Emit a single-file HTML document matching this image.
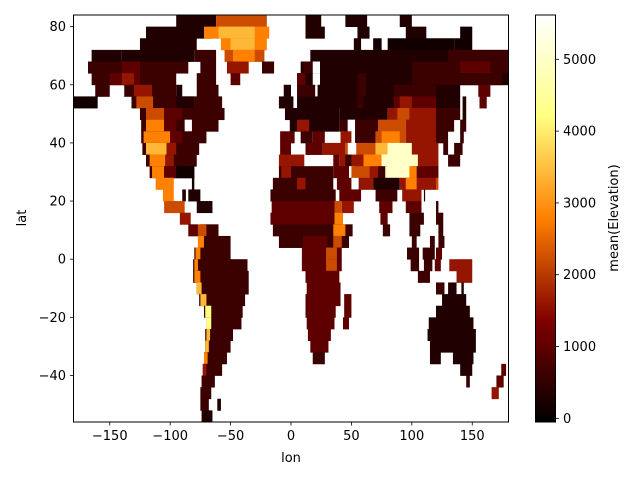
<!DOCTYPE html>
<html><head><meta charset="utf-8"><style>
body{margin:0;background:#fff}
svg{display:block;font-family:"DejaVu Sans","Liberation Sans",sans-serif}
</style></head><body>
<svg id="chart" width="640" height="480" viewBox="0 0 640 480" xmlns="http://www.w3.org/2000/svg">
<defs><linearGradient id="cbgrad" x1="0" y1="1" x2="0" y2="0">
<stop offset="0" stop-color="rgb(0,0,0)"/><stop offset="0.25" stop-color="rgb(128,0,0)"/><stop offset="0.5" stop-color="rgb(255,128,0)"/><stop offset="0.75" stop-color="rgb(255,255,128)"/><stop offset="1" stop-color="rgb(255,255,255)"/></linearGradient>
<clipPath id="plotclip"><rect x="73.5" y="15" width="435" height="407"/></clipPath></defs>
<g id="cells" clip-path="url(#plotclip)"></g>
<rect x="73.5" y="15" width="435" height="407" fill="none" stroke="#000" stroke-width="1"/>
<g id="axes"></g>
<rect x="535.5" y="15" width="20" height="407" fill="url(#cbgrad)" stroke="#000" stroke-width="1"/>
<text x="291" y="462" font-size="13" text-anchor="middle">lon</text>
<text transform="translate(26,218) rotate(-90)" font-size="13" text-anchor="middle">lat</text>
<text transform="translate(618,218) rotate(-90)" font-size="13" text-anchor="middle">mean(Elevation)</text>
</svg>
<script>
const latTop = 84, latStep = 4;
const codeValues = {a:150,b:300,c:600,d:1000,e:1600,f:2200,g:2800,h:3400,i:4200,j:5000};
const xTicks = [-150,-100,-50,0,50,100,150];
const yTicks = [-40,-20,0,20,40,60,80];
const cbTicks = [0,1000,2000,3000,4000,5000];
const rows = [
[[-95,-62,'b'],[-62,-20,'f'],[12,25,'b'],[45,63,'b'],[90,100,'b']],
[[-120,-65,'b'],[-72,-18,'g'],[-60,-30,'h'],[12,28,'b'],[55,65,'b'],[95,112,'b'],[140,150,'a']],
[[-125,-78,'b'],[-58,-20,'g'],[-50,-30,'h'],[52,58,'b'],[68,75,'a'],[80,135,'a'],[135,150,'a']],
[[-165,-140,'b'],[-140,-80,'b'],[-80,-62,'c'],[-55,-22,'f'],[-48,-30,'g'],[16,180,'b'],[130,180,'c']],
[[-168,-85,'c'],[-140,-125,'d'],[-75,-62,'c'],[-53,-35,'e'],[-24,-14,'c'],[8,180,'b'],[10,20,'c'],[18,24,'.'],[100,180,'c'],[140,165,'d']],
[[-165,-95,'c'],[-150,-125,'d'],[-140,-130,'e'],[-78,-62,'c'],[-50,-42,'d'],[5,180,'b'],[5,12,'d'],[18,24,'.'],[55,62,'c'],[100,140,'c'],[140,175,'c']],
[[-162,-150,'c'],[-138,-95,'c'],[-130,-115,'e'],[-95,-90,'b'],[-78,-60,'c'],[-6,0,'b'],[5,20,'c'],[22,140,'b'],[55,62,'c'],[85,120,'c'],[155,165,'d']],
[[-180,-160,'a'],[-132,-80,'c'],[-128,-114,'f'],[-114,-95,'c'],[-95,-80,'b'],[-80,-57,'c'],[-10,2,'b'],[5,140,'b'],[55,60,'c'],[85,120,'d'],[90,100,'e'],[142,145,'b'],[156,162,'d']],
[[-125,-55,'c'],[-120,-105,'f'],[-105,-90,'d'],[-5,40,'b'],[40,80,'b'],[80,120,'e'],[88,98,'f'],[120,140,'c'],[142,145,'b']],
[[-124,-60,'c'],[-120,-105,'g'],[-105,-95,'d'],[-88,-82,'.'],[-1,40,'b'],[5,15,'e'],[40,47,'c'],[47,53,'.'],[53,80,'c'],[72,95,'f'],[95,120,'e'],[120,135,'c'],[140,145,'c']],
[[-124,-70,'c'],[-122,-100,'g'],[-100,-90,'d'],[-9,3,'d'],[8,18,'c'],[18,28,'d'],[41,50,'e'],[53,70,'c'],[70,95,'f'],[75,90,'g'],[95,120,'e'],[120,130,'c'],[140,143,'c']],
[[-123,-76,'c'],[-120,-103,'h'],[-103,-95,'e'],[-9,0,'d'],[12,26,'d'],[26,45,'e'],[45,70,'f'],[47,54,'.'],[70,80,'h'],[80,100,'j'],[100,122,'e'],[126,130,'c'],[135,142,'c']],
[[-120,-78,'c'],[-117,-104,'g'],[-104,-97,'e'],[-10,11,'e'],[35,40,'d'],[40,60,'e'],[45,50,'c'],[60,75,'g'],[75,105,'j'],[105,122,'e'],[130,140,'c']],
[[-117,-80,'c'],[-115,-105,'g'],[-105,-95,'d'],[-95,-80,'a'],[-10,35,'c'],[-8,0,'e'],[35,50,'d'],[48,52,'.'],[50,65,'f'],[65,72,'e'],[72,80,'c'],[78,100,'j'],[100,122,'d'],[98,104,'g']],
[[-112,-97,'g'],[-82,-80,'a'],[-15,35,'c'],[5,12,'e'],[38,57,'d'],[50,56,'.'],[57,68,'e'],[68,90,'b'],[90,120,'e'],[95,104,'g'],[120,122,'f']],
[[-106,-97,'g'],[-90,-87,'b'],[-85,-75,'b'],[-17,37,'c'],[40,58,'d'],[70,88,'c'],[92,108,'e'],[110,111,'b']],
[[-105,-88,'f'],[-78,-65,'b'],[-16,40,'d'],[36,42,'f'],[42,52,'e'],[73,84,'d'],[95,108,'d'],[120,122,'c']],
[[-92,-83,'e'],[-17,43,'d'],[36,43,'g'],[74,80,'d'],[98,110,'c'],[120,126,'c']],
[[-85,-77,'d'],[-75,-60,'c'],[-77,-70,'f'],[-15,51,'c'],[35,45,'g'],[76,82,'c'],[98,107,'c'],[122,126,'c']],
[[-77,-50,'c'],[-77,-72,'g'],[-10,48,'c'],[10,30,'d'],[35,42,'f'],[100,104,'c'],[115,119,'c'],[122,127,'c']],
[[-80,-50,'c'],[-79,-75,'g'],[9,42,'d'],[29,38,'f'],[96,106,'c'],[109,119,'c'],[120,125,'d']],
[[-81,-36,'c'],[-80,-77,'g'],[9,42,'d'],[29,38,'f'],[99,106,'c'],[110,117,'c'],[119,124,'d'],[131,150,'e']],
[[-81,-35,'c'],[-80,-75,'g'],[12,40,'d'],[105,115,'c'],[137,150,'e']],
[[-78,-35,'c'],[-78,-74,'h'],[13,41,'d'],[120,127,'c'],[130,137,'b'],[141,143,'b']],
[[-76,-38,'c'],[-75,-70,'h'],[12,41,'d'],[44,50,'d'],[125,145,'b']],
[[-72,-40,'c'],[-71,-66,'i'],[12,37,'d'],[44,50,'d'],[120,148,'b']],
[[-70,-41,'c'],[-70,-66,'i'],[13,36,'d'],[43,48,'d'],[114,151,'b']],
[[-71,-48,'c'],[-70,-67,'h'],[14,33,'d'],[113,153,'b']],
[[-71,-50,'c'],[-71,-68,'h'],[16,31,'d'],[115,153,'b']],
[[-72,-53,'c'],[-72,-69,'g'],[18,28,'c'],[115,124,'b'],[134,151,'b']],
[[-73,-57,'c'],[-73,-70,'e'],[140,150,'b'],[174,178,'d']],
[[-74,-63,'c'],[145,148,'c'],[170,176,'d']],
[[-75,-66,'c'],[166,172,'e']],
[[-75,-68,'c'],[-61,-58,'b']],
[[-74,-65,'b']]
];
const NS = 'http://www.w3.org/2000/svg';
const vmin = -51, vmax = 5617;
function xScale(lon){ return 73.5 + (lon + 180) * 435 / 360; }
function yScale(lat){ return 15 + (84 - lat) * 407 / 140; }
function cbScale(v){ return 422 - (v - vmin) * 407 / (vmax - vmin); }
function afmhot(v){
  const t = Math.max(0, Math.min(1, (v - vmin) / (vmax - vmin)));
  const c = x => Math.round(255 * Math.max(0, Math.min(1, x)));
  return 'rgb(' + c(2*t) + ',' + c(2*t - 0.5) + ',' + c(2*t - 1) + ')';
}
const cells = document.getElementById('cells');
rows.forEach((segs, j) => {
  const top = latTop - j * latStep, bot = top - latStep;
  segs.forEach(s => {
    const r = document.createElementNS(NS, 'rect');
    
    
    const x0 = xScale(s[0]), x1 = xScale(s[1]);
    r.setAttribute('x', x0);
    r.setAttribute('y', yScale(top));
    r.setAttribute('width', x1 - x0);
    r.setAttribute('height', yScale(bot) - yScale(top) + 0.4);
    r.setAttribute('fill', s[2] === '.' ? '#fff' : afmhot(codeValues[s[2]]));
    cells.appendChild(r);
  });
});
const axes = document.getElementById('axes');
function line(x1,y1,x2,y2){
  const l = document.createElementNS(NS, 'line');
  
  
  l.setAttribute('x1',x1);l.setAttribute('y1',y1);l.setAttribute('x2',x2);l.setAttribute('y2',y2);
  l.setAttribute('stroke','#000');l.setAttribute('stroke-width','0.8');
  axes.appendChild(l);
}
function label(x,y,txt,anchor,name){
  const t = document.createElementNS(NS, 'text');
  
  
  t.setAttribute('x',x);t.setAttribute('y',y);t.setAttribute('font-size','13');
  t.setAttribute('text-anchor',anchor);
  t.textContent = txt;
  axes.appendChild(t);
}
const fmt = v => v < 0 ? '\u2212' + Math.abs(v) : String(v);
xTicks.forEach(v => { const x = xScale(v); line(x,422,x,425.5); label(x,440,fmt(v),'middle','x-tick-label'); });
yTicks.forEach(v => { const y = yScale(v); line(70,y,73.5,y); label(66,y+4.5,fmt(v),'end','y-tick-label'); });
cbTicks.forEach(v => { const y = cbScale(v); line(555.5,y,559,y); label(563,y+4.5,String(v),'start','colorbar-tick-label'); });
</script>
</body></html>
